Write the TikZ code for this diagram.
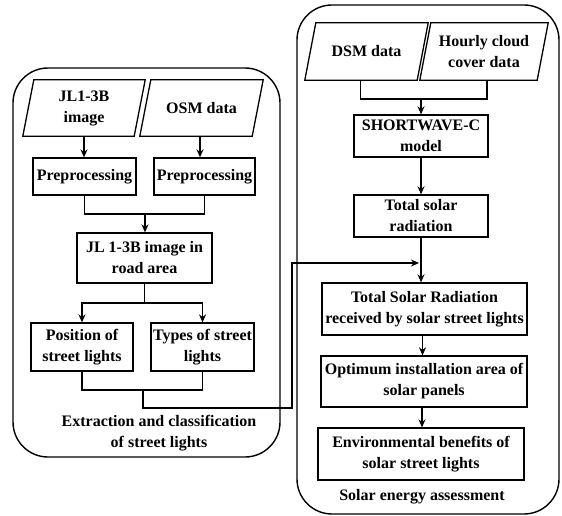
\documentclass[tikz,border=0pt]{standalone}
\usepackage{fontspec}
\setmainfont{Liberation Serif}[BoldFont={Liberation Serif Bold}]
\usetikzlibrary{arrows.meta}
\begin{document}
\begin{tikzpicture}[x=1pt,y=-1pt,
  every node/.style={font=\bfseries\fontsize{16}{21}\selectfont, align=center, inner sep=0pt},
  procbox/.style={draw, line width=1.3pt, rectangle},
  databox/.style={rectangle},
  panel/.style={draw, line width=1.4pt, rounded corners=35pt},
  conn/.style={line width=1.3pt},
  arr/.style={line width=1.3pt, -{Stealth[length=8pt,width=7pt]}}
]
\useasboundingbox (0,0) rectangle (562,516);
% panels
\draw[panel] (13,68) rectangle (280,457);
\draw[panel] (297,5) rectangle (559,514);

% left nodes
\node[databox, minimum width=122pt, minimum height=56pt] (jl1) at (84,108) {JL1-3B\\image};
\node[databox, minimum width=123pt, minimum height=56pt] (osm) at (201.5,108) {OSM data};
\node[procbox, minimum width=103pt, minimum height=37pt] (pre1) at (84.5,176.5) {Preprocessing};
\node[procbox, minimum width=101pt, minimum height=37pt] (pre2) at (204.5,176.5) {Preprocessing};
\node[procbox, minimum width=135pt, minimum height=50pt] (road) at (144.5,258) {JL 1-3B image in\\road area};
\node[procbox, minimum width=102pt, minimum height=48pt] (pos) at (82,347) {Position of\\street lights};
\node[procbox, minimum width=103pt, minimum height=48pt] (typ) at (202.5,347) {Types of street\\lights};
\node (lbl1) at (159,433) {Extraction and classification\\of street lights};

% right nodes
\node[databox, minimum width=123pt, minimum height=57pt] (dsm) at (366.5,51.5) {DSM data};
\node[databox, minimum width=128pt, minimum height=57pt] (cloud) at (484,51.5) {Hourly cloud\\cover data};
\node[procbox, minimum width=134pt, minimum height=42pt] (sw) at (421,136) {SHORTWAVE-C\\model};
\node[procbox, minimum width=134pt, minimum height=42pt] (tsr) at (421,216) {Total solar\\radiation};
\node[procbox, minimum width=205pt, minimum height=52pt] (recv) at (424.5,309) {Total Solar Radiation\\received by solar street lights};
\node[procbox, minimum width=206pt, minimum height=51pt] (opt) at (424,381.5) {Optimum installation area of\\solar panels};
\node[procbox, minimum width=206pt, minimum height=52pt] (env) at (421,454) {Environmental benefits of\\solar street lights};
\node (lbl2) at (422,497) {Solar energy assessment};

% parallelograms
\foreach \n in {jl1,osm,dsm,cloud}{
  \draw[line width=1.3pt] ([xshift=11pt]\n.north west) -- (\n.north east) -- ([xshift=-11pt]\n.south east) -- (\n.south west) -- cycle;
}

% left connectors
\draw[arr] (jl1.south) -- (jl1.south |- pre1.north);
\draw[arr] ([xshift=-1.5pt]osm.south) -- ([xshift=-1.5pt]osm.south |- pre2.north);
\coordinate (m1) at (145,214);
\draw[conn] (pre1.south) -- (pre1.south |- m1) -- (pre2.south |- m1) -- (pre2.south);
\draw[arr] (m1) -- (m1 |- road.north);
\coordinate (s1) at (144.5,303);
\draw[conn] (road.south) -- (s1);
\draw[arr] (s1) -| (pos.north);
\draw[arr] (s1) -| (typ.north);
\coordinate (m2) at (143,390);
\draw[conn] (pos.south) -- (pos.south |- m2) -- (typ.south |- m2) -- (typ.south);
\coordinate (c1) at (143,408);
\coordinate (c2) at (292,408);
\coordinate (c3) at (292,263);
\coordinate (c4) at (419,263);
\draw[arr] (m2) -- (c1) -- (c2) -- (c3) -- (c4);

% right connectors
\coordinate (m3) at (421,99);
\draw[conn] ([xshift=-6pt]dsm.south) -- ([xshift=-6pt]dsm.south |- m3) -- ([xshift=3pt]cloud.south |- m3) -- ([xshift=3pt]cloud.south);
\draw[arr] (m3) -- (sw.north);
\draw[arr] (sw.south) -- (tsr.north);
\draw[arr] (tsr.south) -- (tsr.south |- recv.north);
\draw[arr] ([xshift=-2pt]recv.south) -- ([xshift=-2pt]recv.south |- opt.north);
\draw[arr] ([xshift=-2pt]opt.south) -- ([xshift=-2pt]opt.south |- env.north);
\end{tikzpicture}
\end{document}
